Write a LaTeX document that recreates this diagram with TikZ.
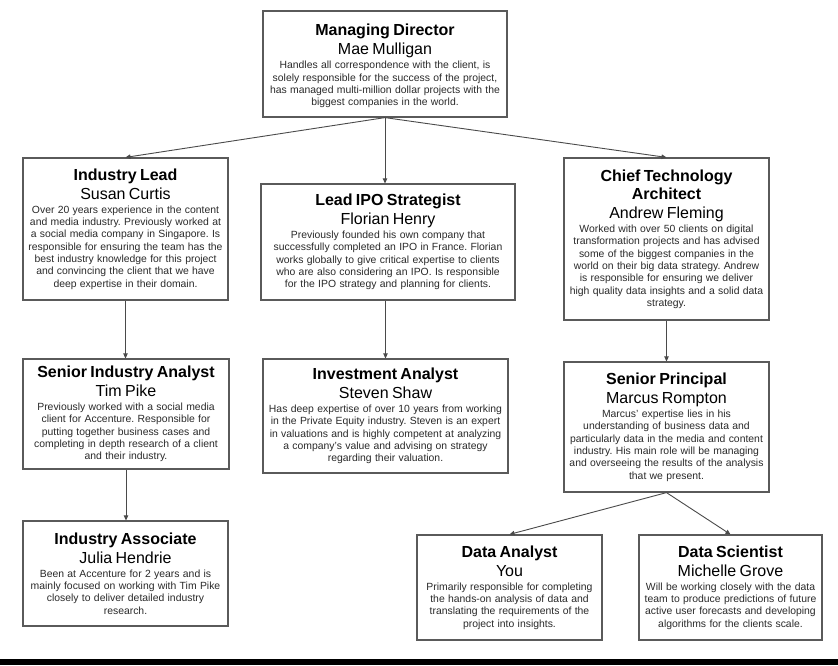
\documentclass[tikz,border=0pt]{standalone}
\usepackage{fontspec}
\setmainfont{Liberation Sans}
\usetikzlibrary{arrows.meta}
\definecolor{boxline}{HTML}{5A5A5A}
\definecolor{bodytext}{HTML}{2A2A2A}
\definecolor{arrowline}{HTML}{4A4A4A}
\newcommand{\ttl}{\fontsize{16}{18.5}\selectfont\bfseries\color{black}}
\newcommand{\nm}{\par\normalfont\fontsize{16}{19}\selectfont\color{black}}
\newcommand{\bd}{\par\vspace{1.8pt}\normalfont\fontsize{10.4}{12.3}\selectfont\color{bodytext}}
\newcommand{\ap}{{\char39}}
\frenchspacing
\begin{document}
\begin{tikzpicture}[x=1pt,y=-1pt,
  orgbox/.style={draw=boxline, line width=1.2pt, fill=white, rectangle,
    inner ysep=0pt, inner xsep=-10pt, align=center, font=\frenchspacing},
  link/.style={draw=arrowline, line width=0.9pt, -{Triangle[length=5pt,width=4.5pt]}}]
\useasboundingbox (0,0) rectangle (838,665);
\fill[white] (0,0) rectangle (838,665);
\fill[black] (0,659) rectangle (838,665);

\node[orgbox, text width=264pt, minimum width=244pt, minimum height=106pt] (md) at (385,64)
 {\ttl\rule{0pt}{15.5pt}Managing Director\nm Mae Mulligan\bd
  Handles all correspondence with the client, is\\
  solely responsible for the success of the project,\\
  has managed multi-million dollar projects with the\\
  biggest companies in the world.\par};

\node[orgbox, text width=225pt, minimum width=205pt, minimum height=142pt] (il) at (125.5,229)
 {\ttl Industry Lead\nm Susan Curtis\bd
  Over 20 years experience in the content\\
  and media industry. Previously worked at\\
  a social media company in Singapore. Is\\
  responsible for ensuring the team has the\\
  best industry knowledge for this project\\
  and convincing the client that we have\\
  deep expertise in their domain.\par};

\node[orgbox, text width=274pt, minimum width=254pt, minimum height=116pt] (ipo) at (388,242)
 {\ttl Lead IPO Strategist\nm Florian Henry\bd
  Previously founded his own company that\\
  successfully completed an IPO in France. Florian\\
  works globally to give critical expertise to clients\\
  who are also considering an IPO. Is responsible\\
  for the IPO strategy and planning for clients.\par};

\node[orgbox, text width=225pt, minimum width=205pt, minimum height=162pt] (cta) at (666.5,239)
 {\ttl Chief Technology\\Architect\nm Andrew Fleming\bd
  Worked with over 50 clients on digital\\
  transformation projects and has advised\\
  some of the biggest companies in the\\
  world on their big data strategy. Andrew\\
  is responsible for ensuring we deliver\\
  high quality data insights and a solid data\\
  strategy.\par};

\node[orgbox, text width=226pt, minimum width=206pt, minimum height=110pt] (sia) at (126,414)
 {\ttl Senior Industry Analyst\nm Tim Pike\bd
  Previously worked with a social media\\
  client for Accenture. Responsible for\\
  putting together business cases and\\
  completing in depth research of a client\\
  and their industry.\par};

\node[orgbox, text width=265pt, minimum width=245pt, minimum height=114pt] (ia) at (385.5,416)
 {\ttl Investment Analyst\nm Steven Shaw\bd
  Has deep expertise of over 10 years from working\\
  in the Private Equity industry. Steven is an expert\\
  in valuations and is highly competent at analyzing\\
  a company\ap s value and advising on strategy\\
  regarding their valuation.\par};

\node[orgbox, text width=225pt, minimum width=205pt, minimum height=130pt] (sp) at (666.5,427)
 {\ttl Senior Principal\nm Marcus Rompton\bd
  Marcus\ap\ expertise lies in his\\
  understanding of business data and\\
  particularly data in the media and content\\
  industry. His main role will be managing\\
  and overseeing the results of the analysis\\
  that we present.\par};

\node[orgbox, text width=225pt, minimum width=205pt, minimum height=105pt] (ias) at (125.5,573.5)
 {\ttl Industry Associate\nm Julia Hendrie\bd
  Been at Accenture for 2 years and is\\
  mainly focused on working with Tim Pike\\
  closely to deliver detailed industry\\
  research.\par};

\node[orgbox, text width=205pt, minimum width=185pt, minimum height=105pt] (da) at (509.5,587.5)
 {\ttl Data Analyst\nm You\bd
  Primarily responsible for completing\\
  the hands-on analysis of data and\\
  translating the requirements of the\\
  project into insights.\par};

\node[orgbox, text width=203pt, minimum width=183pt, minimum height=105pt] (ds) at (730.5,587.5)
 {\ttl Data Scientist\nm Michelle Grove\bd
  Will be working closely with the data\\
  team to produce predictions of future\\
  active user forecasts and developing\\
  algorithms for the clients scale.\par};

\draw[link] (md.south) -- (il.north);
\draw[link] (md.south) -- (md.south |- ipo.north);
\draw[link] (md.south) -- (cta.north);
\draw[link] (il.south) -- (il.south |- sia.north);
\draw[link] (ia.north |- ipo.south) -- (ia.north);
\draw[link] (cta.south) -- (cta.south |- sp.north);
\draw[link] (sia.south) -- (sia.south |- ias.north);
\draw[link] (sp.south) -- (da.north);
\draw[link] (sp.south) -- (ds.north);
\end{tikzpicture}
\end{document}
